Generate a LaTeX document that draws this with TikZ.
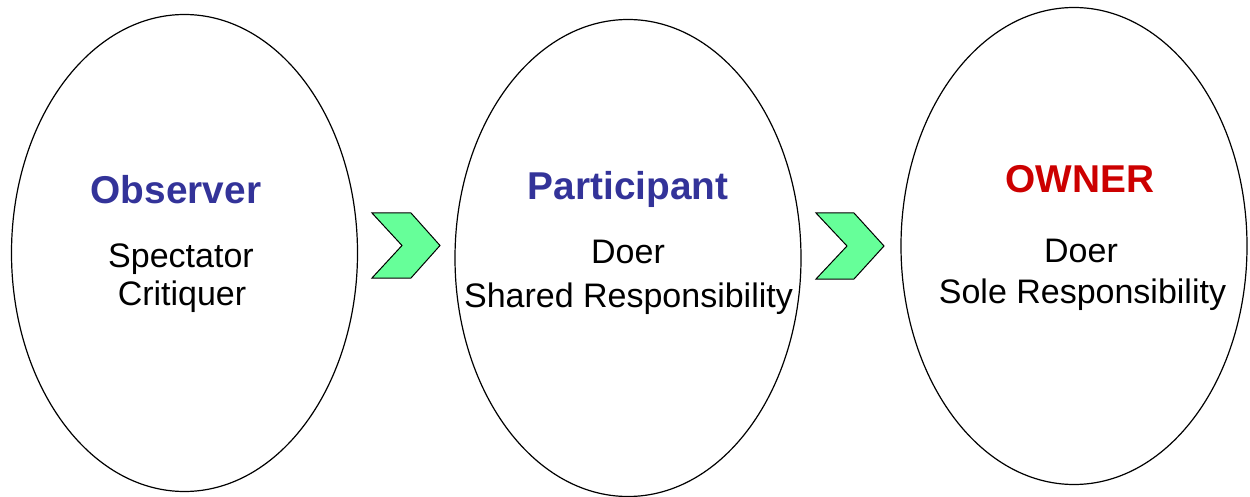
\documentclass[tikz,border=0pt]{standalone}
\usepackage{fontspec}
\setmainfont{Liberation Sans}
\usetikzlibrary{shapes.geometric}
\definecolor{titleblue}{HTML}{333399}
\definecolor{ownerred}{HTML}{CC0000}
\definecolor{chevgreen}{HTML}{66FF99}
\begin{document}
\begin{tikzpicture}[x=1pt,y=-1pt,
  stage/.style={draw=black, line width=1.2pt, ellipse, inner sep=0pt, minimum width=346pt, minimum height=477pt},
  title/.style={font=\fontsize{38.8}{40}\selectfont\bfseries, anchor=base, inner sep=0pt},
  body/.style={font=\fontsize{34}{38}\selectfont, anchor=base, inner sep=0pt},
  chev/.style={draw=black, line width=1pt, fill=chevgreen, line join=miter}]
\useasboundingbox (0,0) rectangle (1250,497);
% stages
\node[stage] (obs) at (184.5,253) {};
\node[stage] (par) at (628,258) {};
\node[stage] (own) at (1074,246) {};
% chevrons
\draw[chev] (372,213) -- (411,213) -- (440,245.5) -- (411,278) -- (372,278) -- (402,245.5) -- cycle;
\draw[chev] (816,213) -- (854,213) -- (884,246) -- (854,279) -- (816,279) -- (847,246) -- cycle;
% texts
\node[title, text=titleblue] (obsT) at (176,204) {Observer};
\node[body] (obs1) at (181,267) {Spectator};
\node[body] (obs2) at (182,305) {Critiquer};
\node[title, text=titleblue] (parT) at (628,200) {Participant};
\node[body] (par1) at (628,263) {Doer};
\node[body] (par2) at (628.5,307) {Shared Responsibility};
\node[title, text=ownerred] (ownT) at (1080,193) {OWNER};
\node[body] (own1) at (1081,262) {Doer};
\node[body] (own2) at (1082.5,303) {Sole Responsibility};
\end{tikzpicture}
\end{document}
